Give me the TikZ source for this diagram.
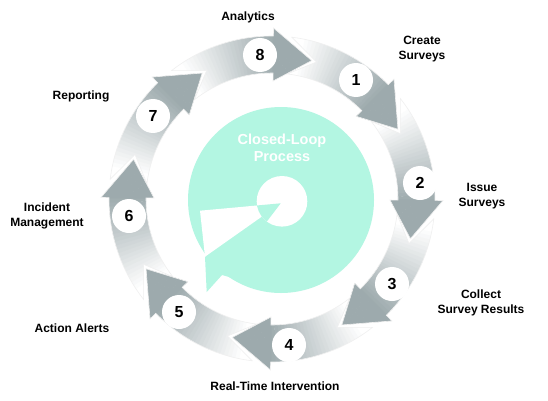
\documentclass[tikz,border=0pt]{standalone}
\usepackage{fontspec}
\setmainfont{Liberation Sans}
\definecolor{mint}{RGB}{179,246,226}
\definecolor{headgray}{RGB}{157,170,173}
\tikzset{
  lbl/.style={font=\bfseries\fontsize{12}{15}\selectfont, align=center, text=black},
  numc/.style={circle, fill=white, minimum size=34pt, inner sep=0pt, font=\bfseries\fontsize{16}{16}\selectfont},
  outl/.style={draw=black!6, line width=0.6pt},
}
\begin{document}
\begin{tikzpicture}[x=1pt,y=1pt]
\useasboundingbox (0,0) rectangle (548,400);
\fill[white] (0,0) rectangle (548,400);
% ring of arrows
\begin{scope}[shift={(272,201)}]
\foreach \t in {29,74,119,164,209,254,299,344}{
  \pgfmathsetmacro\aN{\t+43}
  \pgfmathsetmacro\aC{\t+54}
  \pgfmathsetmacro\aB{\t+15.5}
  \def\ArrowPath{(\aN:144) -- (\aC:163) arc[start angle=\aC, end angle=\aB, radius=163] -- (\aB:171) -- (\t:144) -- (\aB:118) -- (\aB:126) arc[start angle=\aB, end angle=\aC, radius=126] -- cycle}
  \begin{scope}
    \clip \ArrowPath;
    \foreach \i in {0,...,39}{
      \pgfmathsetmacro\a{\t+55-\i*1.4}
      \pgfmathsetmacro\e{\a-1.6}
      \pgfmathsetmacro\p{max(0,min(100,(\t+50-\a+0.7)/35*100))}
      \fill[headgray!\p!white] (0,0) -- (\a:185) arc[start angle=\a, end angle=\e, radius=185] -- cycle;
    }
  \end{scope}
  \path[outl] \ArrowPath;
}
\end{scope}
% central mint shape
\fill[mint] (281,200) circle[radius=93];
\fill[mint] (205,143.3) -- (206.7,108) -- (222,125) -- (240,120) -- (235,160) -- cycle;
\fill[white] (282,198.7) circle[radius=25.3];
\fill[white] (200,189.3) -- (258,194.6) -- (261.7,183.3) -- (205,143.3) -- cycle;
\begin{scope}
  \clip (282,198.7) circle[radius=25.3];
  \fill[mint] (250,193.9) -- (280.7,196.7) -- (266.7,178.3) -- (250,175) -- cycle;
\end{scope}
\node[font=\bfseries\fontsize{14.5}{17}\selectfont, text=white, align=center] (ctitle) at (282,252) {Closed-Loop\\Process};
% number circles
\node[numc] (n1) at (356,320) {1};
\node[numc] (n2) at (420,217) {2};
\node[numc] (n3) at (392,116) {3};
\node[numc] (n4) at (289,55) {4};
\node[numc] (n5) at (179,88) {5};
\node[numc] (n6) at (129,184) {6};
\node[numc] (n7) at (153,284) {7};
\node[numc] (n8) at (260,345) {8};
% labels
\node[lbl] (l8) at (248,383) {Analytics};
\node[lbl] (l1) at (422,351) {Create\\Surveys};
\node[lbl] (l2) at (482,204) {Issue\\Surveys};
\node[lbl] (l3) at (481,97) {Collect\\Survey Results};
\node[lbl] (l4) at (275,14) {Real-Time Intervention};
\node[lbl] (l5) at (72,72) {Action Alerts};
\node[lbl] (l6) at (47,184) {Incident\\Management};
\node[lbl] (l7) at (81,304) {Reporting};
\end{tikzpicture}
\end{document}
